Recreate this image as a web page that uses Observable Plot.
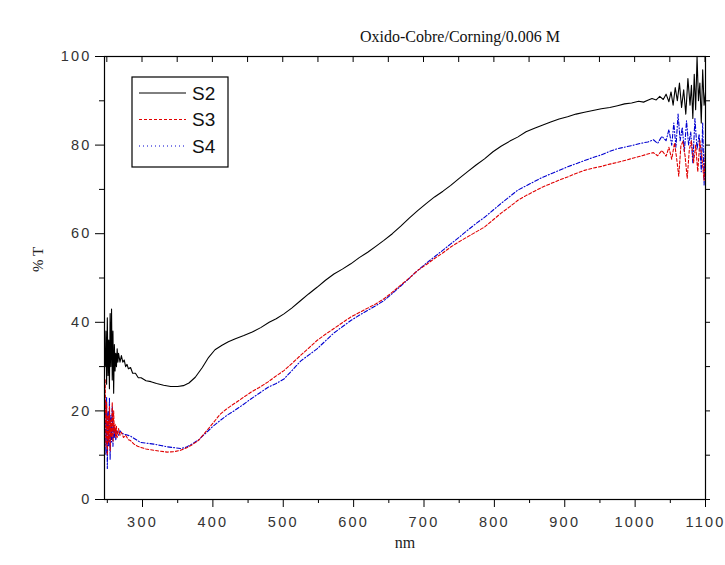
<!DOCTYPE html>
<html>
<head>
<meta charset="utf-8">
<script src="https://cdn.jsdelivr.net/npm/d3@7"></script>
<script src="https://cdn.jsdelivr.net/npm/@observablehq/plot@0.6"></script>
<style>
  html, body { margin: 0; padding: 0; background: #fff; }
</style>
</head>
<body>
<div id="chart"></div>
<script>
const title = "Oxido-Cobre/Corning/0.006 M";
const xLabel = "nm";
const yLabel = "% T";
const seriesNames = ["S2", "S3", "S4"];
const xTicks = [300, 400, 500, 600, 700, 800, 900, 1000, 1100];
const yTicks = [0, 20, 40, 60, 80, 100];

const s2_nm = [247,248,249,250,251,252,253,254,255,256,257,258,259,260,261,262,263,264,265,266,268,270,272,274,276,278,280,283,286,290,294,298,305,312,320,330,340,350,358,366,375,385,394,403,413,422,432,444,456,468,480,490,501,512,524,536,548,560,572,584,596,608,620,632,643,655,667,679,691,703,715,727,738,750,762,774,786,798,810,822,833,845,857,868,880,892,904,916,928,940,952,964,975,985,995,1005,1012,1018,1024,1030,1035,1040,1044,1048,1051,1054,1057,1060,1063,1066,1069,1072,1075,1078,1080,1082,1084,1086,1088,1090,1092,1094,1096,1098,1100];
const s2_T = [30,38,26,41,28,36,25,42,30,43,27,38,24,35,29,33,30,34,31,33,31,32.5,31,31.5,30,30.5,29.5,29.8,28.5,28.5,27.5,27.5,26.8,26.6,26.2,25.8,25.5,25.5,25.7,26.3,27.6,29.8,32.1,33.8,34.8,35.6,36.3,37,37.8,38.8,40,40.8,41.9,43.2,44.8,46.4,47.9,49.5,50.9,52,53.2,54.6,55.8,57.2,58.5,60,61.7,63.5,65.2,66.8,68.3,69.6,70.9,72.5,74,75.5,76.9,78.5,79.8,80.9,81.8,83,83.8,84.5,85.2,85.9,86.4,87,87.4,87.8,88.2,88.5,88.9,89.3,89.5,89.9,89.7,90.1,90.5,90.2,91,90.3,91.5,89.8,92,89,93,90,94,88.5,92.5,87,95,89,93.5,86,96,88,100,90,94,85,97,89,92];

const s3_nm = [247,248,249,250,251,252,253,254,255,256,257,258,259,260,261,262,263,264,266,268,270,273,276,280,283,288,293,297,305,316,326,335,345,354,362,370,380,390,400,410,420,430,442,454,466,478,490,501,513,525,537,548,560,572,584,596,608,620,632,643,655,667,679,691,703,715,727,738,750,762,774,786,798,810,822,833,845,857,868,880,892,904,916,928,940,952,964,975,987,998,1008,1018,1026,1032,1038,1044,1048,1052,1056,1059,1062,1065,1068,1071,1074,1077,1080,1083,1086,1089,1092,1095,1098,1100];
const s3_T = [27,12,22,10,19,13,21,11,18,14,22,13,20,15,17,14,16.5,14,16,14.5,15.2,14,14.5,13.5,13.3,12.5,12,11.8,11.4,11.1,10.9,10.7,10.8,11.1,11.6,12.3,13.4,15.3,17.2,19.2,20.5,21.6,22.9,24.2,25.3,26.5,27.9,29.1,30.8,32.6,34.3,35.9,37.3,38.6,39.9,41.2,42.2,43.2,44.2,45.3,46.8,48.4,50,51.7,53,54.4,55.7,57,58.2,59.3,60.4,61.5,63.1,64.7,66.1,67.5,68.6,69.6,70.5,71.3,72.1,72.8,73.6,74.3,74.8,75.2,75.7,76.1,76.6,77.1,77.5,78,78.3,77.6,78.8,77.5,79.5,76.8,80.5,77,73,79.8,80.8,77.5,72.5,79,81,76,80,74,81,77,72,79];

const s4_nm = [247,248,249,250,251,252,253,254,255,256,257,258,259,260,261,262,264,266,268,270,273,277,283,290,297,306,316,326,335,345,354,362,370,380,390,400,410,420,430,442,454,466,478,490,501,513,525,537,548,560,572,584,596,608,620,632,643,655,667,679,691,703,715,727,738,750,762,774,786,798,810,822,833,845,857,868,880,892,904,916,928,940,952,964,975,987,998,1008,1018,1026,1032,1038,1044,1048,1052,1055,1058,1061,1064,1067,1070,1073,1076,1079,1082,1085,1088,1091,1094,1096,1098,1100];
const s4_T = [22,10,23,7,20,12,23,9,19,13,21,12,17,14,16,13.5,15.5,14.5,15.5,15,14.8,14.6,14.3,13.6,12.9,12.7,12.5,12.2,11.9,11.7,11.5,11.8,12.5,13.5,15,16.5,17.8,19,20,21.3,22.7,24,25.3,26.2,27.2,29.2,31.3,32.7,34,35.8,37.6,39,40.4,41.6,42.7,43.8,44.9,46.5,48.2,49.9,51.7,53.3,54.8,56.3,57.7,59.2,60.8,62.3,63.7,65.3,66.9,68.4,69.8,70.8,71.8,72.7,73.5,74.3,75.1,75.8,76.5,77.2,77.8,78.6,79.2,79.6,80,80.4,80.7,81.2,80.4,82,81,83.5,80,85,79.5,87,81,84,78.5,85.5,80,83,76,86,79,82.5,74,85,71,80];

const colors = {S2: "#000000", S3: "#e00000", S4: "#0000d0"};
const dashes = {S2: null, S3: "3,2", S4: "4,2,1,2"};

const rows = [
  ...d3.zip(s2_nm, s2_T).map(([x, y]) => ({x, y, s: "S2"})),
  ...d3.zip(s3_nm, s3_T).map(([x, y]) => ({x, y, s: "S3"})),
  ...d3.zip(s4_nm, s4_T).map(([x, y]) => ({x, y, s: "S4"}))
];

const minorX = d3.range(250, 1100, 100);
const minorY = d3.range(10, 100, 20);
const topTicks = d3.range(250, 1101, 50);
const rightTicks = d3.range(0, 101, 10);

const svg = Plot.plot({
  width: 725,
  height: 565,
  marginTop: 56,
  marginBottom: 66,
  marginLeft: 104,
  marginRight: 20,
  style: {fontFamily: "'Liberation Sans', Arial, sans-serif", fontSize: "13px", background: "#fff"},
  x: {domain: [246, 1100]},
  y: {domain: [0, 100]},
  marks: [
    Plot.line(rows.filter(d => d.s === "S4"), {x: "x", y: "y", stroke: colors.S4, strokeWidth: 1.1, strokeDasharray: dashes.S4}),
    Plot.line(rows.filter(d => d.s === "S3"), {x: "x", y: "y", stroke: colors.S3, strokeWidth: 1.1, strokeDasharray: dashes.S3}),
    Plot.line(rows.filter(d => d.s === "S2"), {x: "x", y: "y", stroke: colors.S2, strokeWidth: 1.1}),
    Plot.frame({stroke: "#000", strokeWidth: 1.2}),
    Plot.axisX(xTicks, {anchor: "bottom", tickSize: 8, tickPadding: 9, label: null, fill: "#333", stroke: "#000", tickFormat: d => String(d)}),
    Plot.axisX(minorX, {anchor: "bottom", tickSize: 4, tickFormat: () => "", label: null, stroke: "#000"}),
    Plot.axisY(yTicks, {anchor: "left", tickSize: 9, tickPadding: 4, label: null, fill: "#333", stroke: "#000", tickFormat: d => String(d)}),
    Plot.axisY(minorY, {anchor: "left", tickSize: 5, tickFormat: () => "", label: null, stroke: "#000"}),
    Plot.axisY(rightTicks, {anchor: "right", tickSize: 4, tickFormat: () => "", label: null, stroke: "#000"}),
    Plot.text([title], {frameAnchor: "top", dy: -26, dx: 55, fontFamily: "'Liberation Serif', 'Times New Roman', serif", fontSize: 16, fill: "#111"}),
    Plot.text([yLabel], {frameAnchor: "left", dx: -66, dy: -6, rotate: -90, fontFamily: "'Liberation Serif', 'Times New Roman', serif", fontSize: 15, fill: "#222"}),
    Plot.text([xLabel], {frameAnchor: "bottom", dy: 48, fontFamily: "'Liberation Serif', 'Times New Roman', serif", fontSize: 16, fill: "#222"})
  ]
});

// tick label styling (Origin-like look): enlarge and space out numeric tick labels
d3.select(svg).selectAll("text")
  .filter(function() { return /^\d+$/.test(this.textContent.trim()); })
  .style("font-size", "14.5px")
  .style("letter-spacing", "2.2px");

// inward ticks on the top edge, positioned through the plot's x scale
const xs = svg.scale("x");
const xScale = d3.scaleLinear().domain(xs.domain).range(xs.range);
d3.select(svg).append("g").attr("stroke", "#000").attr("stroke-width", 1)
  .selectAll("line").data(topTicks).join("line")
  .attr("x1", d => xScale(d)).attr("x2", d => xScale(d))
  .attr("y1", 56).attr("y2", 62);

// legend box
const lg = d3.select(svg).append("g")
  .attr("font-family", "'Liberation Sans', Arial, sans-serif")
  .attr("text-anchor", "start");
lg.append("rect").attr("x", 132).attr("y", 77).attr("width", 96).attr("height", 90)
  .attr("fill", "#fff").attr("stroke", "#000").attr("stroke-width", 1.2);
seriesNames.forEach((name, i) => {
  const yy = 93 + i * 26.5;
  lg.append("line").attr("x1", 139).attr("x2", 186).attr("y1", yy).attr("y2", yy)
    .attr("stroke", colors[name]).attr("stroke-width", 1)
    .attr("stroke-dasharray", name === "S4" ? "1,3" : dashes[name]);
  lg.append("text").attr("x", 192).attr("y", yy).attr("dy", "0.36em")
    .attr("text-anchor", "start")
    .attr("font-size", 19).attr("fill", "#111").text(name);
});

document.getElementById("chart").appendChild(svg);
</script>
</body>
</html>
